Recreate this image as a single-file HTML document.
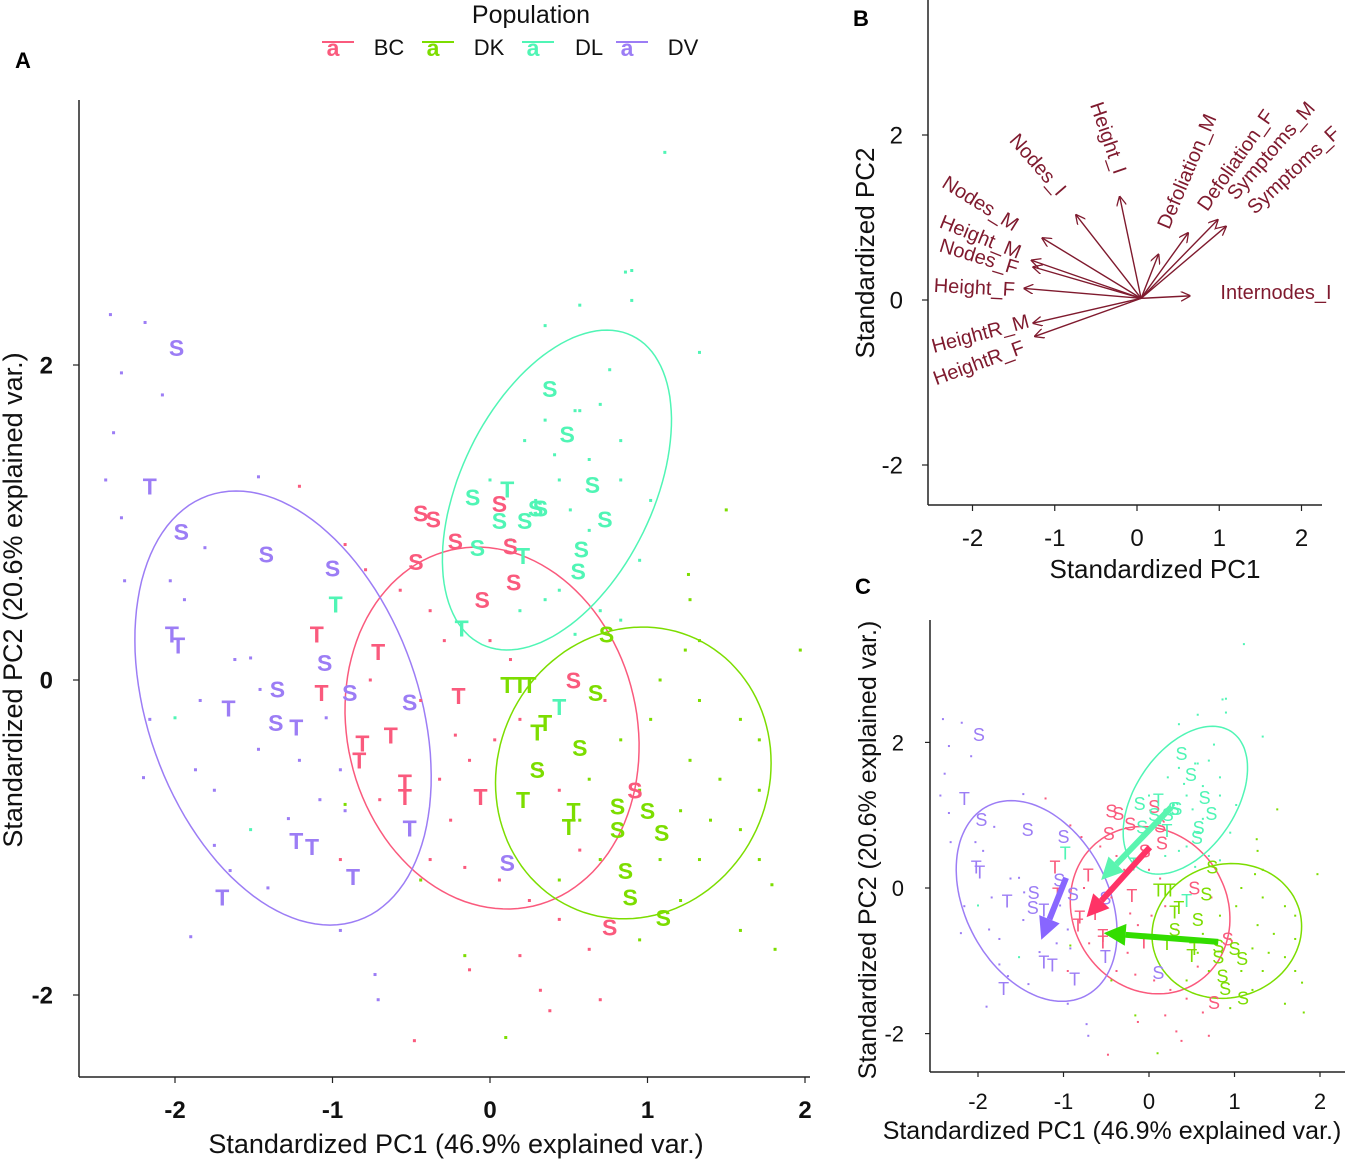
<!DOCTYPE html>
<html><head><meta charset="utf-8">
<style>
html,body{margin:0;padding:0;background:#fff;}
svg{display:block;font-family:"Liberation Sans",Arial,sans-serif;}
</style></head>
<body>
<svg id="chart" width="1348" height="1161" viewBox="0 0 1348 1161" xmlns="http://www.w3.org/2000/svg">
  <defs>
    <marker id="hB" viewBox="0 0 10 10" refX="9" refY="5" markerWidth="10" markerHeight="10" markerUnits="userSpaceOnUse" orient="auto"><path d="M0,0 L10,5 L0,10" fill="none" stroke="#7f1a2e" stroke-width="1.3"/></marker>
  </defs>
  <g id="legend">
    <text x="531" y="23" font-size="25" text-anchor="middle" fill="#111">Population</text>
  </g>
  <text x="15" y="68" font-size="22" font-weight="bold" fill="#000">A</text>
  <text x="853" y="26" font-size="22" font-weight="bold" fill="#000">B</text>
  <text x="855" y="594" font-size="22" font-weight="bold" fill="#000">C</text>
  <g id="panelA"></g>
  <g id="panelB"></g>
  <g id="panelC"></g>
</svg>
<script>
const NS="http://www.w3.org/2000/svg";
const groups=["BC","DK","DL","DV"];
const colors=["#fa5a7d","#7cdd00","#50f5b5","#9c7df5"];
const arrowColorsC=["#ff3366","#33dd00","#5af5b0","#8866ff"];

// dots per population (PC1, PC2)
const dotsBC=[[-1.21,1.23],[-0.92,0.86],[-0.79,0.70],[-0.57,0.57],[-0.38,0.44],[-0.29,0.25],[-0.76,0.00],[-0.44,-0.13],[-0.22,-0.35],[-0.13,-0.51],[0.03,-0.38],[0.19,-0.25],[0.32,-0.57],[0.44,-0.70],[-0.25,-0.89],[-0.38,-1.14],[-0.16,-1.19],[0.06,-1.27],[0.25,-1.40],[0.44,-1.52],[0.63,-1.71],[0.19,-1.75],[-0.13,-1.84],[0.32,-1.97],[0.70,-2.03],[-0.48,-2.29],[0.38,-2.10],[0.57,-1.08],[-0.70,-0.76],[-0.95,-1.14],[0.73,-0.13],[-0.32,-0.63],[0.00,0.25],[0.13,0.13]];
const dotsDK=[[1.50,1.08],[1.26,0.67],[1.27,0.51],[1.97,0.19],[1.24,0.19],[1.08,0.00],[1.33,-0.13],[1.59,-0.25],[1.71,-0.38],[1.02,-0.25],[0.83,-0.38],[1.27,-0.51],[1.46,-0.63],[1.71,-0.70],[0.95,-0.70],[0.63,-0.63],[1.21,-0.83],[1.40,-0.89],[1.59,-0.95],[1.71,-1.14],[1.33,-1.14],[1.08,-1.14],[0.70,-1.14],[0.44,-1.27],[1.21,-1.40],[1.59,-1.59],[1.79,-1.30],[1.81,-1.71],[0.95,-1.65],[0.57,-0.89],[0.10,-2.27],[-0.16,-1.75],[-0.44,-1.27],[-0.92,-0.79],[1.33,0.25]];
const dotsDL=[[1.11,3.35],[0.86,2.59],[0.90,2.60],[0.57,2.38],[0.35,2.25],[0.90,2.41],[1.33,2.08],[0.76,1.97],[0.70,1.75],[0.54,1.71],[0.83,1.52],[0.22,1.52],[0.41,1.43],[0.63,1.40],[0.44,1.27],[0.83,1.27],[0.29,1.14],[0.51,1.08],[1.02,1.14],[0.63,0.95],[0.95,0.76],[0.44,0.57],[0.35,0.51],[0.70,0.44],[0.83,0.38],[0.00,1.27],[0.19,0.44],[0.54,0.29],[-1.52,-0.95],[-2.00,-0.24],[0.57,1.71],[0.35,1.65],[0.13,0.89]];
const dotsDV=[[-2.41,2.32],[-2.19,2.27],[-2.34,1.95],[-2.08,1.81],[-2.39,1.57],[-2.44,1.27],[-1.47,1.29],[-2.34,1.03],[-1.81,0.84],[-2.32,0.63],[-2.03,0.63],[-1.94,0.51],[-1.62,0.13],[-1.52,0.14],[-2.16,-0.25],[-1.84,-0.13],[-2.20,-0.62],[-1.87,-0.57],[-1.75,-0.70],[-1.47,-0.44],[-1.21,-0.51],[-1.08,-0.76],[-0.92,-0.83],[-1.75,-1.05],[-1.65,-1.21],[-1.41,-1.32],[-1.90,-1.63],[-0.95,-1.59],[-0.73,-1.87],[-0.71,-2.03],[-1.28,-0.88],[-1.04,-0.24],[-1.46,-0.06],[-0.95,-0.57]];

// labelled points: [PC1, PC2, label]
const labBC=[[-0.44,1.06,"S"],[-0.36,1.02,"S"],[0.06,1.12,"S"],[-0.22,0.88,"S"],[0.13,0.85,"S"],[-0.47,0.75,"S"],[0.15,0.62,"S"],[-0.05,0.51,"S"],[-1.10,0.29,"T"],[-0.71,0.18,"T"],[-1.07,-0.08,"T"],[-0.20,-0.10,"T"],[0.53,0.00,"S"],[-0.63,-0.35,"T"],[-0.81,-0.40,"T"],[-0.83,-0.51,"T"],[-0.54,-0.65,"T"],[-0.54,-0.74,"T"],[-0.06,-0.74,"T"],[0.92,-0.70,"S"],[0.76,-1.57,"S"]];
const labDK=[[0.74,0.29,"S"],[0.11,-0.03,"T"],[0.19,-0.03,"T"],[0.25,-0.03,"T"],[0.67,-0.08,"S"],[0.35,-0.27,"T"],[0.30,-0.33,"T"],[0.57,-0.43,"S"],[0.30,-0.57,"S"],[0.21,-0.76,"T"],[0.53,-0.83,"T"],[0.50,-0.93,"T"],[0.81,-0.80,"S"],[0.81,-0.95,"S"],[1.00,-0.83,"S"],[1.09,-0.97,"S"],[0.86,-1.21,"S"],[0.89,-1.38,"S"],[1.10,-1.51,"S"]];
const labDL=[[0.38,1.85,"S"],[0.49,1.56,"S"],[0.11,1.21,"T"],[-0.11,1.16,"S"],[0.29,1.09,"S"],[0.32,1.09,"S"],[0.06,1.01,"S"],[0.22,1.01,"S"],[0.65,1.24,"S"],[0.73,1.02,"S"],[-0.08,0.84,"S"],[0.21,0.79,"T"],[0.58,0.83,"S"],[0.56,0.69,"S"],[-0.98,0.48,"T"],[-0.18,0.33,"T"],[0.44,-0.17,"T"]];
const labDV=[[-1.99,2.11,"S"],[-2.16,1.23,"T"],[-1.96,0.94,"S"],[-1.42,0.80,"S"],[-1.00,0.71,"S"],[-2.02,0.29,"T"],[-1.98,0.22,"T"],[-1.05,0.11,"S"],[-1.35,-0.06,"S"],[-0.89,-0.08,"S"],[-0.51,-0.14,"S"],[-1.66,-0.18,"T"],[-1.36,-0.27,"S"],[-1.23,-0.30,"T"],[-1.23,-1.02,"T"],[-1.13,-1.06,"T"],[-0.87,-1.25,"T"],[-1.70,-1.38,"T"],[0.11,-1.16,"S"],[-0.51,-0.94,"T"]];

// normal data ellipses: [cx, cy, semi-major, semi-minor, angle deg]
const ellipses=[[0.013,-0.305,1.16,0.92,-77],[0.91,-0.59,0.94,0.86,65],[0.425,1.206,1.09,0.61,64],[-1.314,-0.178,1.43,0.86,-70.5]];

// panel C shift arrows: [x0,y0,x1,y1]
const shiftArrows=[[0.01,0.56,-0.73,-0.40],[0.81,-0.74,-0.53,-0.62],[0.26,1.11,-0.56,0.11],[-0.97,0.14,-1.26,-0.71]];

// panel B loadings
const varNames=["Internodes_I","Symptoms_F","Symptoms_M","Defoliation_F","Defoliation_M","Height_I","Nodes_I","Nodes_M","Height_M","Nodes_F","Height_F","HeightR_M","HeightR_F"];
const loadX=[0.64,1.08,0.98,0.62,0.26,-0.21,-0.74,-1.15,-1.28,-1.26,-1.37,-1.26,-1.24];
const loadY=[0.05,0.89,0.97,0.81,0.55,1.25,1.03,0.75,0.48,0.40,0.14,-0.28,-0.44];
const loadOrigin=[0.05,0.02];
const labelPx=[[1276,292,0],[1298,168,-43],[1276,148,-49],[1241,157,-55],[1193,167,-67],[1102,133,71],[1033,162,49],[977,202,32],[978,236,22],[977,256,17],[974,287,3],[982,333,-15],[981,362,-20]];

const axTicks=[-2,-1,0,1,2];
const ayTicks=[-2,0,2];

const svg=document.getElementById('chart');
function mk(tag,attrs,parent){const e=document.createElementNS(NS,tag);for(const k in attrs)e.setAttribute(k,attrs[k]);(parent||svg).appendChild(e);return e;}

// legend
const legG=document.getElementById('legend');
const legX=[333,433,533,627];
groups.forEach((g,i)=>{
  const gg=mk('g',{},legG);
  
  
  mk('line',{x1:legX[i]-11,y1:42,x2:legX[i]+21,y2:42,stroke:colors[i],'stroke-width':2},gg);
  const a=mk('text',{x:legX[i],y:56,'font-size':23,'font-weight':'bold','text-anchor':'middle',fill:colors[i]},gg);a.textContent='a';
  const t=mk('text',{x:legX[i]+56,y:55,'font-size':22,'text-anchor':'middle',fill:'#111'},gg);t.textContent=g;
});

function panel(gid,P){
  const G=document.getElementById(gid);
  const sx=v=>P.x0+v*P.kx, sy=v=>P.y0-v*P.ky;
  return {G,sx,sy};
}
function axes(p,P,bold,fs,tickLen){
  const {G,sx,sy}=p;
  const al=mk('line',{x1:P.left,y1:P.top,x2:P.left,y2:P.bottom,stroke:'#222','stroke-width':1.5},G);
  
  const bl=mk('line',{x1:P.left,y1:P.bottom,x2:P.right,y2:P.bottom,stroke:'#222','stroke-width':1.5},G);
  
  axTicks.forEach(v=>{
    mk('line',{x1:sx(v),y1:P.bottom,x2:sx(v),y2:P.bottom+tickLen,stroke:'#222','stroke-width':1.2},G);
    const t=mk('text',{x:sx(v),y:P.xLabY,'font-size':fs,'font-weight':bold?'bold':'normal','text-anchor':'middle',fill:'#111'},G);
    
    t.textContent=v<0?'-'+Math.abs(v):String(v);
  });
  ayTicks.forEach(v=>{
    mk('line',{x1:P.left-tickLen,y1:sy(v),x2:P.left,y2:sy(v),stroke:'#222','stroke-width':1.2},G);
    const t=mk('text',{x:P.yLabX,y:sy(v)+fs*0.36,'font-size':fs,'font-weight':bold?'bold':'normal','text-anchor':'end',fill:'#111'},G);
    
    t.textContent=v<0?'-'+Math.abs(v):String(v);
  });
  const xt=mk('text',{x:P.xtx,y:P.xty,'font-size':P.tfs,'text-anchor':'middle',fill:'#111'},G);
  xt.textContent=P.xtitle;
  const yt=mk('text',{x:0,y:0,'font-size':P.tfs,'text-anchor':'middle',fill:'#111',transform:`translate(${P.ytx},${P.yty}) rotate(-90)`},G);
  yt.textContent=P.ytitle;
}
function scatter(p,dotSize,lfs,lbold){
  const {G,sx,sy}=p;
  const dots=[dotsBC,dotsDK,dotsDL,dotsDV], labs=[labBC,labDK,labDL,labDV];
  groups.forEach((g,i)=>{
    const e=ellipses[i];const ang=e[4]*Math.PI/180;let d='';
    for(let k=0;k<=120;k++){const t=k/120*2*Math.PI;const ux=e[2]*Math.cos(t),uy=e[3]*Math.sin(t);
      const dx=ux*Math.cos(ang)-uy*Math.sin(ang),dy=ux*Math.sin(ang)+uy*Math.cos(ang);
      d+=(k?'L':'M')+sx(e[0]+dx).toFixed(1)+','+sy(e[1]+dy).toFixed(1);}
    const el=mk('path',{d:d+'Z',fill:'none',stroke:colors[i],'stroke-width':1.5},G);
    
    
  });
  groups.forEach((g,i)=>{
    dots[i].forEach(pt=>{
      const r=mk('rect',{x:sx(pt[0])-dotSize/2,y:sy(pt[1])-dotSize/2,width:dotSize,height:dotSize,fill:colors[i]},G);
      
      
    });
  });
  groups.forEach((g,i)=>{
    labs[i].forEach(pt=>{
      const t=mk('text',{x:sx(pt[0]),y:sy(pt[1])+lfs*0.36,'font-size':lfs,'font-weight':lbold?'bold':'normal','text-anchor':'middle',fill:colors[i]},G);
      
      
      t.textContent=pt[2];
    });
  });
}

// Panel A
const PA={x0:490,kx:157.5,y0:680,ky:157.5,left:79,right:810,top:100,bottom:1077,xLabY:1118,yLabX:53,xtx:456,xty:1153,ytx:22,yty:600,tfs:27,xtitle:'Standardized PC1 (46.9% explained var.)',ytitle:'Standardized PC2 (20.6% explained var.)'};
const pA=panel('panelA',PA);
scatter(pA,3,23,true);
axes(pA,PA,true,24,6);

// Panel B
const PB={x0:1137,kx:82.25,y0:300,ky:82.5,left:928,right:1322,top:0,bottom:505,xLabY:546,yLabX:903,xtx:1155,xty:578,ytx:874,yty:253,tfs:26,xtitle:'Standardized PC1',ytitle:'Standardized PC2'};
const pB=panel('panelB',PB);
axes(pB,PB,false,24,6);
varNames.forEach((n,i)=>{
  const l=mk('line',{x1:pB.sx(loadOrigin[0]),y1:pB.sy(loadOrigin[1]),x2:pB.sx(loadX[i]),y2:pB.sy(loadY[i]),stroke:'#7f1a2e','stroke-width':1.4,'marker-end':'url(#hB)'},pB.G);
  
  
  const L=labelPx[i];
  const t=mk('text',{x:0,y:0,'font-size':20,'text-anchor':'middle',fill:'#7f1a2e',transform:`translate(${L[0]},${L[1]+7}) rotate(${L[2]})`},pB.G);
  
  
  t.textContent=n;
});

// Panel C
const PC={x0:1149,kx:85.5,y0:888,ky:72.8,left:930,right:1345,top:620,bottom:1072,xLabY:1109,yLabX:904,xtx:1112,xty:1139,ytx:876,yty:850,tfs:25,xtitle:'Standardized PC1 (46.9% explained var.)',ytitle:'Standardized PC2 (20.6% explained var.)'};
const pC=panel('panelC',PC);
scatter(pC,2,18,false);
axes(pC,PC,false,22,5);
groups.forEach((g,i)=>{
  const a=shiftArrows[i];
  const x0=pC.sx(a[0]),y0=pC.sy(a[1]),x1=pC.sx(a[2]),y1=pC.sy(a[3]);
  const ang=Math.atan2(y1-y0,x1-x0),hl=22,hw=11;
  const bx=x1-hl*Math.cos(ang),by=y1-hl*Math.sin(ang);
  const ln=mk('line',{x1:x0,y1:y0,x2:bx,y2:by,stroke:arrowColorsC[i],'stroke-width':6},pC.G);
  
  
  const px=-Math.sin(ang),py=Math.cos(ang);
  const hd=mk('polygon',{points:`${x1},${y1} ${bx+px*hw},${by+py*hw} ${bx-px*hw},${by-py*hw}`,fill:arrowColorsC[i]},pC.G);
  
  
});
</script>
</body></html>
